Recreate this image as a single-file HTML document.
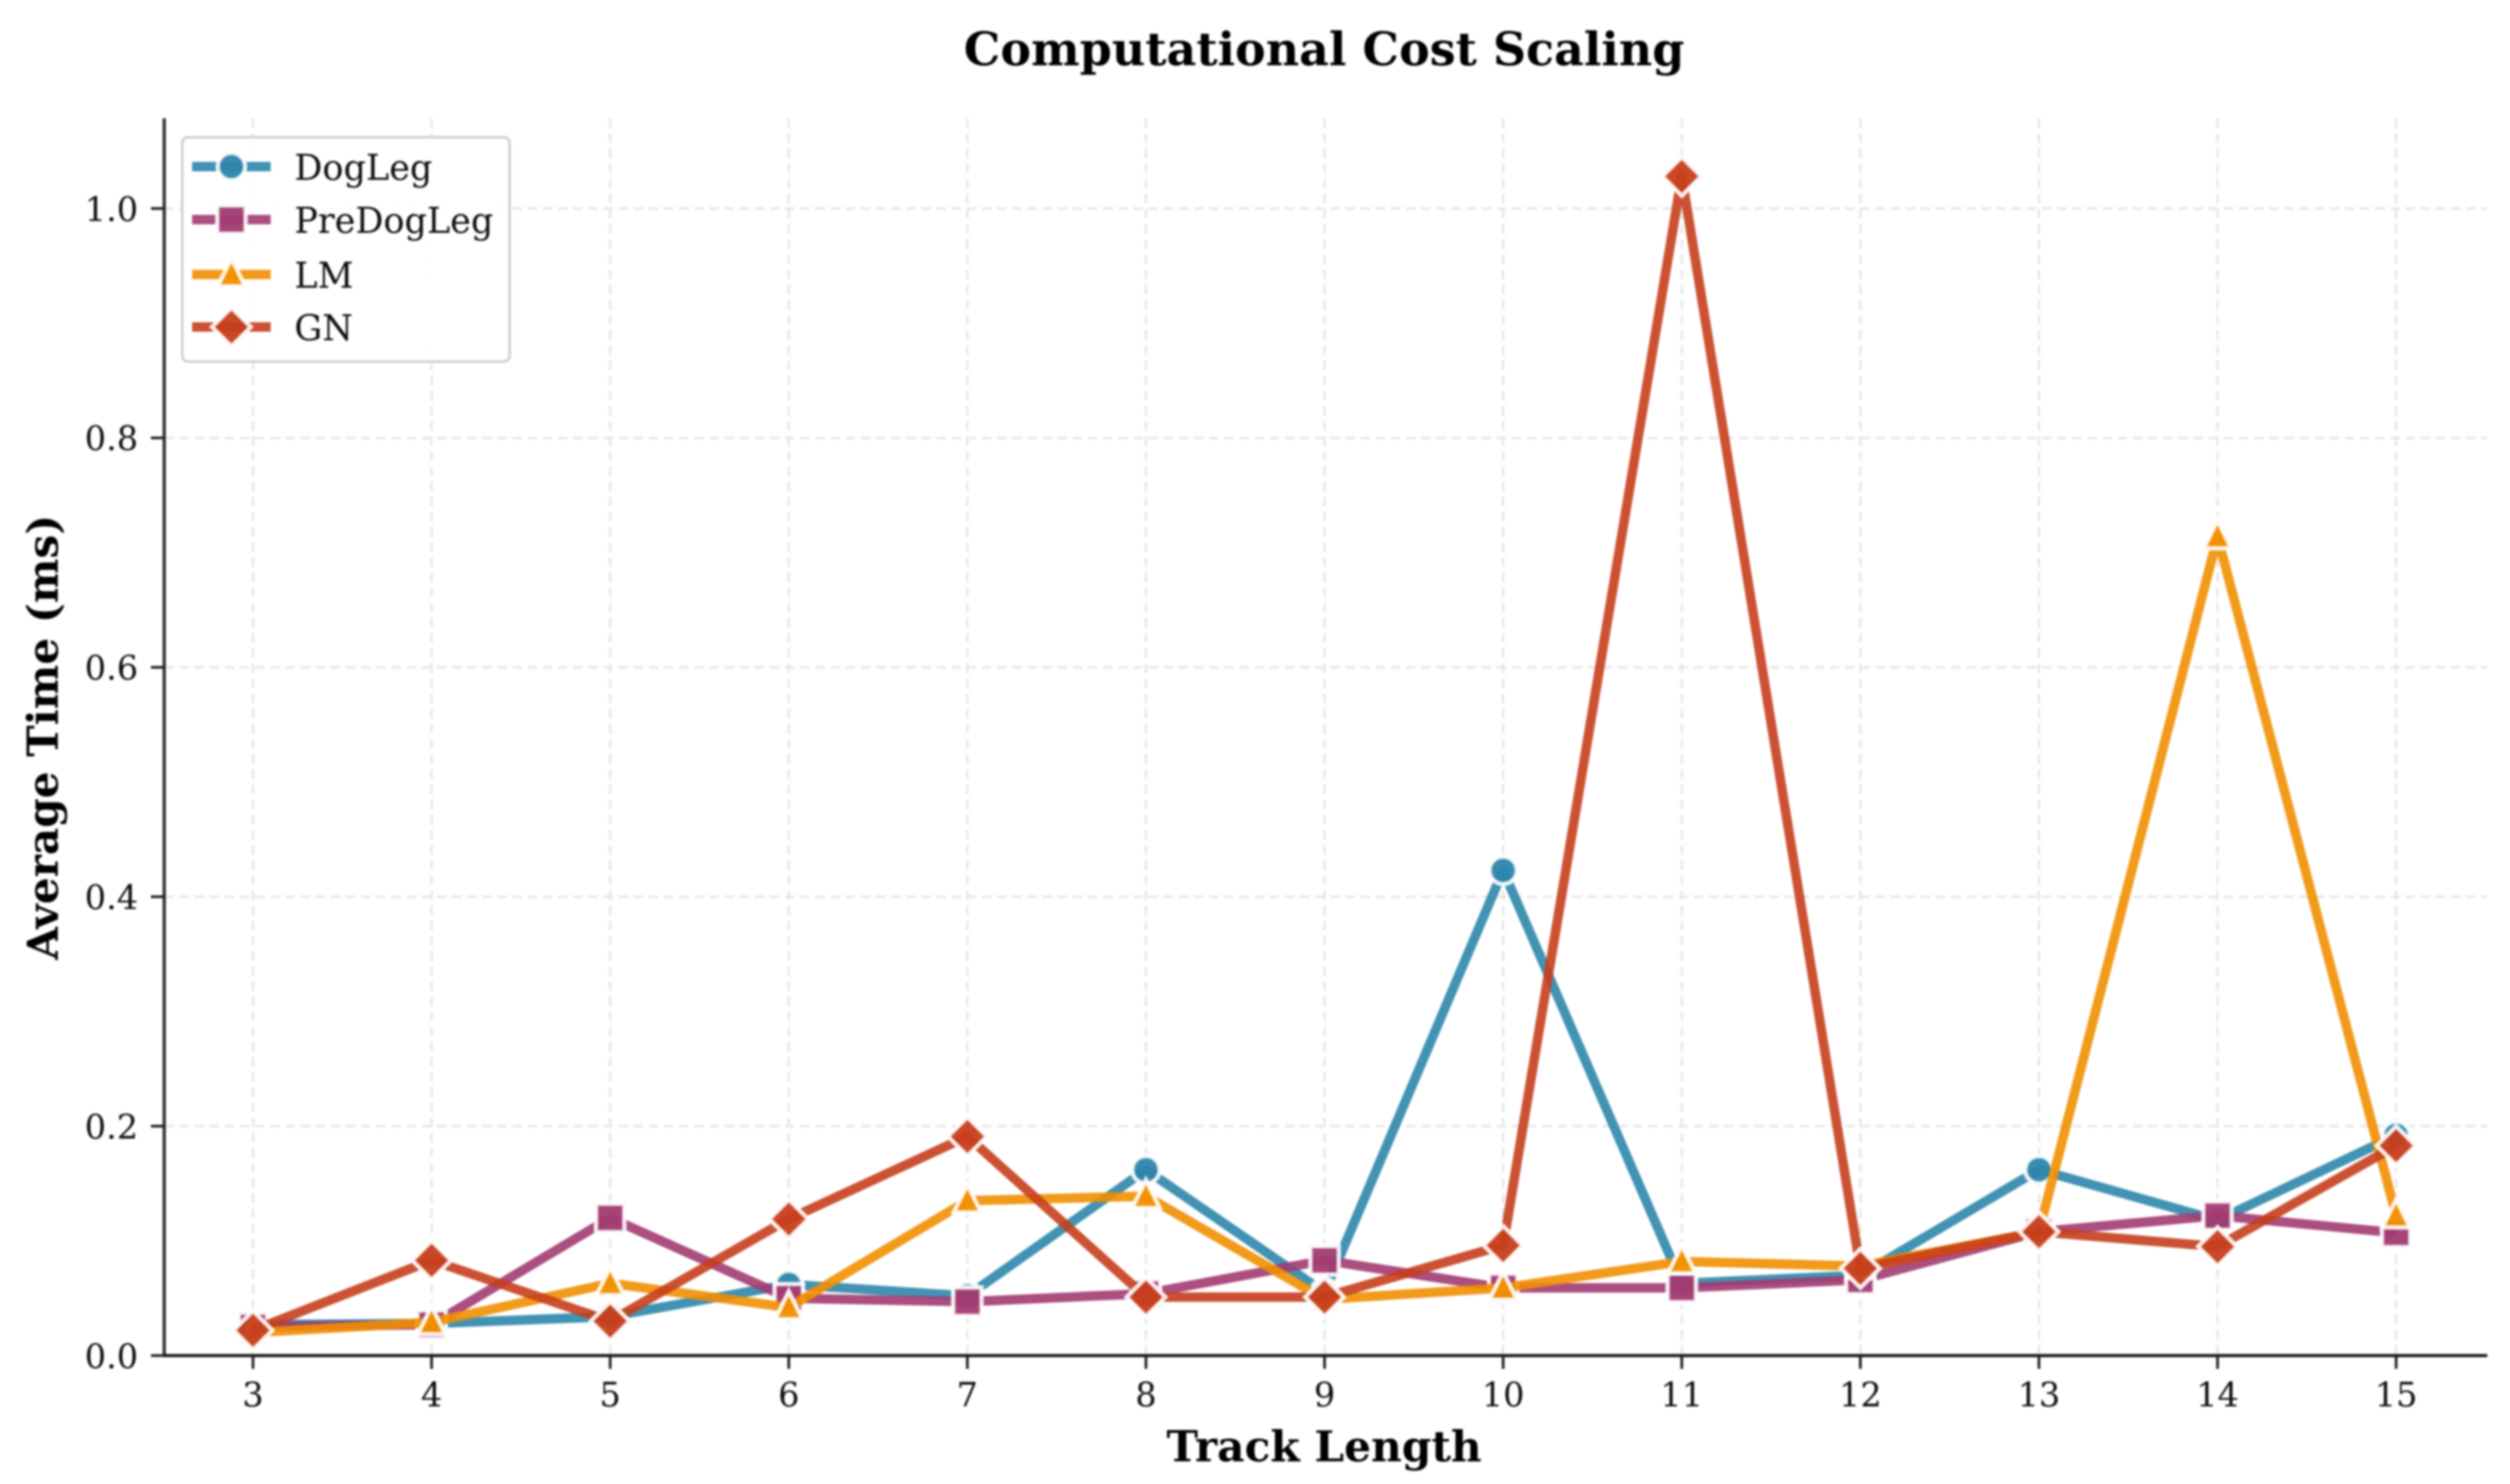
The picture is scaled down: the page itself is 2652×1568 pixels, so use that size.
<!DOCTYPE html>
<html lang="en">
<head>
<meta charset="utf-8">
<title>Computational Cost Scaling</title>
<style>
html,body{margin:0;padding:0;background:#fff;width:2652px;height:1568px;overflow:hidden}
svg{display:block;filter:blur(1px)}
text{font-family:"DejaVu Serif","Liberation Serif",serif;fill:#0d0d0d}
</style>
</head>
<body>
<svg id="chart" xmlns="http://www.w3.org/2000/svg" width="2652" height="1568" viewBox="0 0 2652 1568">
  <rect width="2652" height="1568" fill="#ffffff"/>
  <g id="grid"></g>
  <g id="series"></g>
  <g id="axes"></g>
  <text x="1399" y="69" text-anchor="middle" font-size="48.6" font-weight="700" style="fill:#000">Computational Cost Scaling</text>
  <text x="1399" y="1544" text-anchor="middle" font-size="44.7" font-weight="700" style="fill:#000">Track Length</text>
  <text transform="translate(61,779) rotate(-90)" text-anchor="middle" font-size="44.6" font-weight="700" style="fill:#000">Average Time (ms)</text>
  <g id="legend"></g>
</svg>
<script>
const categories = [3, 4, 5, 6, 7, 8, 9, 10, 11, 12, 13, 14, 15];
const yTicks = [0, 0.2, 0.4, 0.6, 0.8, 1.0];
const yTickLabels = ['0.0', '0.2', '0.4', '0.6', '0.8', '1.0'];
const seriesNames = ['DogLeg', 'PreDogLeg', 'LM', 'GN'];
const seriesColors = ['#2E86AB', '#A23B72', '#F18F01', '#C73E1D'];
const seriesMarkers = ['circle', 'square', 'triangle', 'diamond'];
const dogLeg = [0.027, 0.028, 0.034, 0.062, 0.052, 0.162, 0.055, 0.423, 0.063, 0.070, 0.162, 0.118, 0.192];
const preDogLeg = [0.025, 0.027, 0.120, 0.050, 0.047, 0.054, 0.083, 0.059, 0.059, 0.066, 0.108, 0.122, 0.107];
const lm = [0.020, 0.029, 0.063, 0.042, 0.135, 0.139, 0.049, 0.059, 0.082, 0.078, 0.108, 0.714, 0.122];
const gn = [0.022, 0.083, 0.030, 0.119, 0.191, 0.051, 0.051, 0.096, 1.028, 0.076, 0.108, 0.095, 0.183];
const seriesValues = [dogLeg, preDogLeg, lm, gn];

const NS = 'http://www.w3.org/2000/svg';
const plotLeft = 173.5, plotRight = 2628, plotTop = 125, plotBottom = 1432.3;
function xScale(v) { return 267.3 + (v - categories[0]) * 188.7; }
function yScale(v) { return plotBottom - v * 1212; }
function make(tag, attrs, parent) {
  const el = document.createElementNS(NS, tag);
  for (const k in attrs) el.setAttribute(k, attrs[k]);
  parent.appendChild(el);
  return el;
}
function drawMarker(kind, cx, cy, color, parent) {
  let shape;
  const style = { fill: color, 'fill-opacity': 0.95, stroke: '#ffffff', 'stroke-opacity': 0.9, 'stroke-width': 4.5, 'stroke-linejoin': 'miter' };
  if (kind === 'circle') {
    shape = make('circle', Object.assign({ cx: cx, cy: cy, r: 14.5 }, style), parent);
  } else if (kind === 'square') {
    shape = make('rect', Object.assign({ x: cx - 15, y: cy - 15, width: 30, height: 30 }, style), parent);
  } else if (kind === 'triangle') {
    shape = make('polygon', Object.assign({ points: [cx, cy - 17, cx + 14.5, cy + 12.5, cx - 14.5, cy + 12.5].join(' ') }, style), parent);
  } else {
    shape = make('polygon', Object.assign({ points: [cx, cy - 20.5, cx + 20.5, cy, cx, cy + 20.5, cx - 20.5, cy].join(' ') }, style), parent);
  }
  return shape;
}

const gridLayer = document.getElementById('grid');
categories.forEach(function (c) {
  const line = make('line', { x1: xScale(c), x2: xScale(c), y1: plotTop, y2: plotBottom, stroke: '#e6e6e6', 'stroke-width': 2.5, 'stroke-dasharray': '10 6' }, gridLayer);
  
  
});
yTicks.forEach(function (t) {
  const line = make('line', { x1: plotLeft, x2: plotRight, y1: yScale(t), y2: yScale(t), stroke: '#e6e6e6', 'stroke-width': 2.5, 'stroke-dasharray': '10 6' }, gridLayer);
  
  
});

const seriesLayer = document.getElementById('series');
seriesValues.forEach(function (values, i) {
  const g = make('g', {}, seriesLayer);
  
  
  const pts = values.map(function (v, j) { return xScale(categories[j]) + ',' + yScale(v); }).join(' ');
  const line = make('polyline', { points: pts, fill: 'none', stroke: seriesColors[i], 'stroke-opacity': 0.9, 'stroke-width': 10, 'stroke-linejoin': 'round', 'stroke-linecap': 'butt' }, g);
  
  
  values.forEach(function (v, j) {
    const m = drawMarker(seriesMarkers[i], xScale(categories[j]), yScale(v), seriesColors[i], g);
    
    
  });
});

const axesLayer = document.getElementById('axes');
const ySpine = make('line', { x1: plotLeft, x2: plotLeft, y1: plotTop, y2: plotBottom + 1.5, stroke: '#2b2b2b', 'stroke-width': 3.4 }, axesLayer);


const xSpine = make('line', { x1: plotLeft - 1.5, x2: plotRight, y1: plotBottom, y2: plotBottom, stroke: '#1c1c1c', 'stroke-width': 3.4 }, axesLayer);


categories.forEach(function (c) {
  const tick = make('line', { x1: xScale(c), x2: xScale(c), y1: plotBottom, y2: plotBottom + 14, stroke: '#1c1c1c', 'stroke-width': 2.8 }, axesLayer);
  
  
  const label = make('text', { x: xScale(c), y: 1486, 'text-anchor': 'middle', 'font-size': 35.5 }, axesLayer);
  label.textContent = String(c);
  
  
});
yTicks.forEach(function (t, i) {
  const tick = make('line', { x1: plotLeft - 14, x2: plotLeft, y1: yScale(t), y2: yScale(t), stroke: '#1c1c1c', 'stroke-width': 2.8 }, axesLayer);
  
  
  const label = make('text', { x: 146, y: yScale(t) + 13, 'text-anchor': 'end', 'font-size': 35.5 }, axesLayer);
  label.textContent = yTickLabels[i];
  
  
});

const legendLayer = document.getElementById('legend');
const legendRowY = [176, 232, 290, 345.5];
const legendBox = make('rect', { x: 192.5, y: 145, width: 346, height: 237, rx: 6, fill: '#ffffff', 'fill-opacity': 0.9, stroke: '#cccccc', 'stroke-width': 2.6 }, legendLayer);


seriesNames.forEach(function (name, i) {
  const entry = make('g', {}, legendLayer);
  
  
  make('line', { x1: 203, x2: 286, y1: legendRowY[i], y2: legendRowY[i], stroke: seriesColors[i], 'stroke-opacity': 0.9, 'stroke-width': 10 }, entry);
  drawMarker(seriesMarkers[i], 244.5, legendRowY[i], seriesColors[i], entry);
  const label = make('text', { x: 311, y: legendRowY[i] + 14, 'font-size': 37 }, entry);
  label.textContent = name;
});
</script>
</body>
</html>
